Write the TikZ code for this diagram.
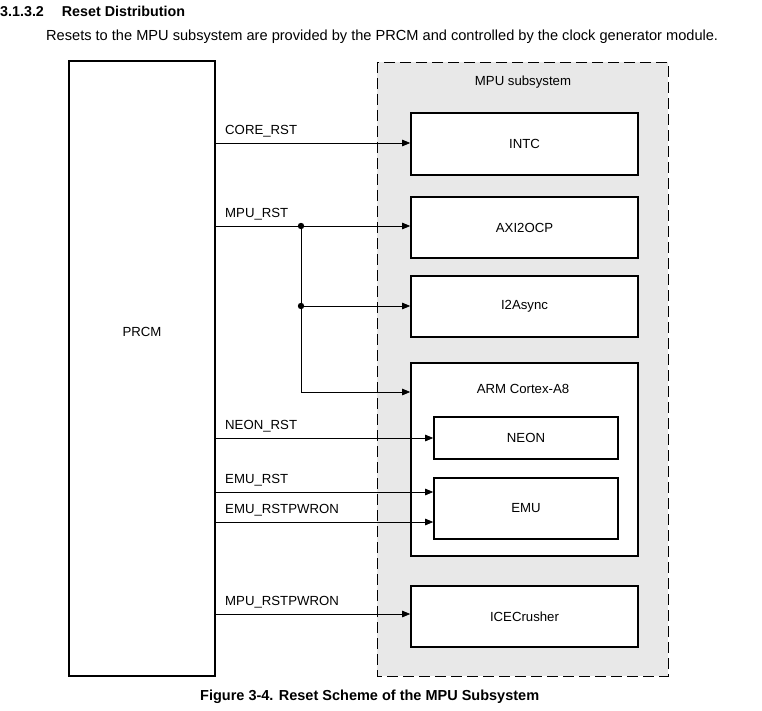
\documentclass[tikz,border=0pt]{standalone}
\usepackage{fontspec}
\setmainfont{Liberation Sans}
\usetikzlibrary{arrows.meta}
\definecolor{subgray}{HTML}{E8E8E8}
\tikzset{
  blk/.style={draw, line width=1.6pt, fill=white, font=\fontsize{13.2}{15}\selectfont},
  sig/.style={line width=0.8pt, -{Triangle[length=8pt,width=6.5pt]}},
  lbl/.style={anchor=south west, inner sep=0pt, font=\fontsize{13.2}{15}\selectfont}
}
\begin{document}
\begin{tikzpicture}[x=1pt,y=-1pt]
            \useasboundingbox (0,0) rectangle (762,711);
            \node[anchor=west, inner sep=0pt, font=\bfseries\fontsize{14.3}{16}\selectfont] (title) at (0,11) {3.1.3.2\hspace{18pt}Reset Distribution};
            \node[anchor=west, inner sep=0pt, font=\fontsize{14.6}{16}\selectfont] (intro) at (46,37) {Resets to the MPU subsystem are provided by the PRCM and controlled by the clock generator module.};
            \draw[fill=subgray, line width=0.9pt, dash pattern=on 11pt off 5pt] (377,62) rectangle (668,676);
            \node[font=\fontsize{13.2}{15}\selectfont] (mpu) at (523,82) {MPU subsystem};
            \node[blk, minimum width=146pt, minimum height=615pt] (prcm) at (142,368.5) {};
            \node[font=\fontsize{13.2}{15}\selectfont] (prcmlbl) at (142,332) {PRCM};
            \node[blk, minimum width=227pt, minimum height=62pt] (intc) at (524.5,144) {INTC};
            \node[blk, minimum width=227pt, minimum height=61pt] (axi) at (524.5,227.5) {AXI2OCP};
            \node[blk, minimum width=227pt, minimum height=61pt] (async) at (524.5,306.5) {I2Async};
            \node[blk, minimum width=227pt, minimum height=193pt] (arm) at (524.5,459.5) {};
            \node[font=\fontsize{13.2}{15}\selectfont] (armlbl) at (523,389) {ARM Cortex-A8};
            \node[blk, minimum width=184pt, minimum height=42pt] (neon) at (526,438) {NEON};
            \node[blk, minimum width=184pt, minimum height=61pt] (emu) at (526,508.5) {EMU};
            \node[blk, minimum width=227pt, minimum height=61pt] (ice) at (524.5,616.5) {ICECrusher};
            \draw (prcm.east |- 0,143) coordinate (sCore);
            \draw (prcm.east |- 0,226) coordinate (sMpu);
            \draw (301,226) coordinate (jA);
            \draw (301,306) coordinate (jB);
            \draw (301,392) coordinate (jC);
            \draw (prcm.east |- 0,438) coordinate (sNeon);
            \draw (prcm.east |- 0,492) coordinate (sEmu);
            \draw (prcm.east |- 0,522) coordinate (sEmuPwr);
            \draw (prcm.east |- 0,614) coordinate (sMpuPwr);
            \draw[sig] (sCore) -- (intc.west |- sCore) node[lbl, pos=0, xshift=9pt, yshift=5pt] {CORE\_RST};
            \draw[sig] (sMpu) -- (axi.west |- sMpu) node[lbl, pos=0, xshift=9pt, yshift=5pt] {MPU\_RST};
            \draw[sig] (jA) -- (jB) -- (async.west |- jB);
            \draw[sig] (jB) -- (jC) -- (arm.west |- jC);
            \draw[sig] (sNeon) -- (neon.west) node[lbl, pos=0, xshift=9pt, yshift=5pt] {NEON\_RST};
            \draw[sig] (sEmu) -- (emu.west |- sEmu) node[lbl, pos=0, xshift=9pt, yshift=5pt] {EMU\_RST};
            \draw[sig] (sEmuPwr) -- (emu.west |- sEmuPwr) node[lbl, pos=0, xshift=9pt, yshift=5pt] {EMU\_RSTPWRON};
            \draw[sig] (sMpuPwr) -- (ice.west |- sMpuPwr) node[lbl, pos=0, xshift=9pt, yshift=5pt] {MPU\_RSTPWRON};
            \fill (jA) circle (3.2pt);
            \fill (jB) circle (3.2pt);
            \node[anchor=west, inner sep=0pt, font=\bfseries\fontsize{14.5}{16}\selectfont] (caption) at (200,697) {Figure 3-4. Reset Scheme of the MPU Subsystem};
        \end{tikzpicture}
\end{document}
